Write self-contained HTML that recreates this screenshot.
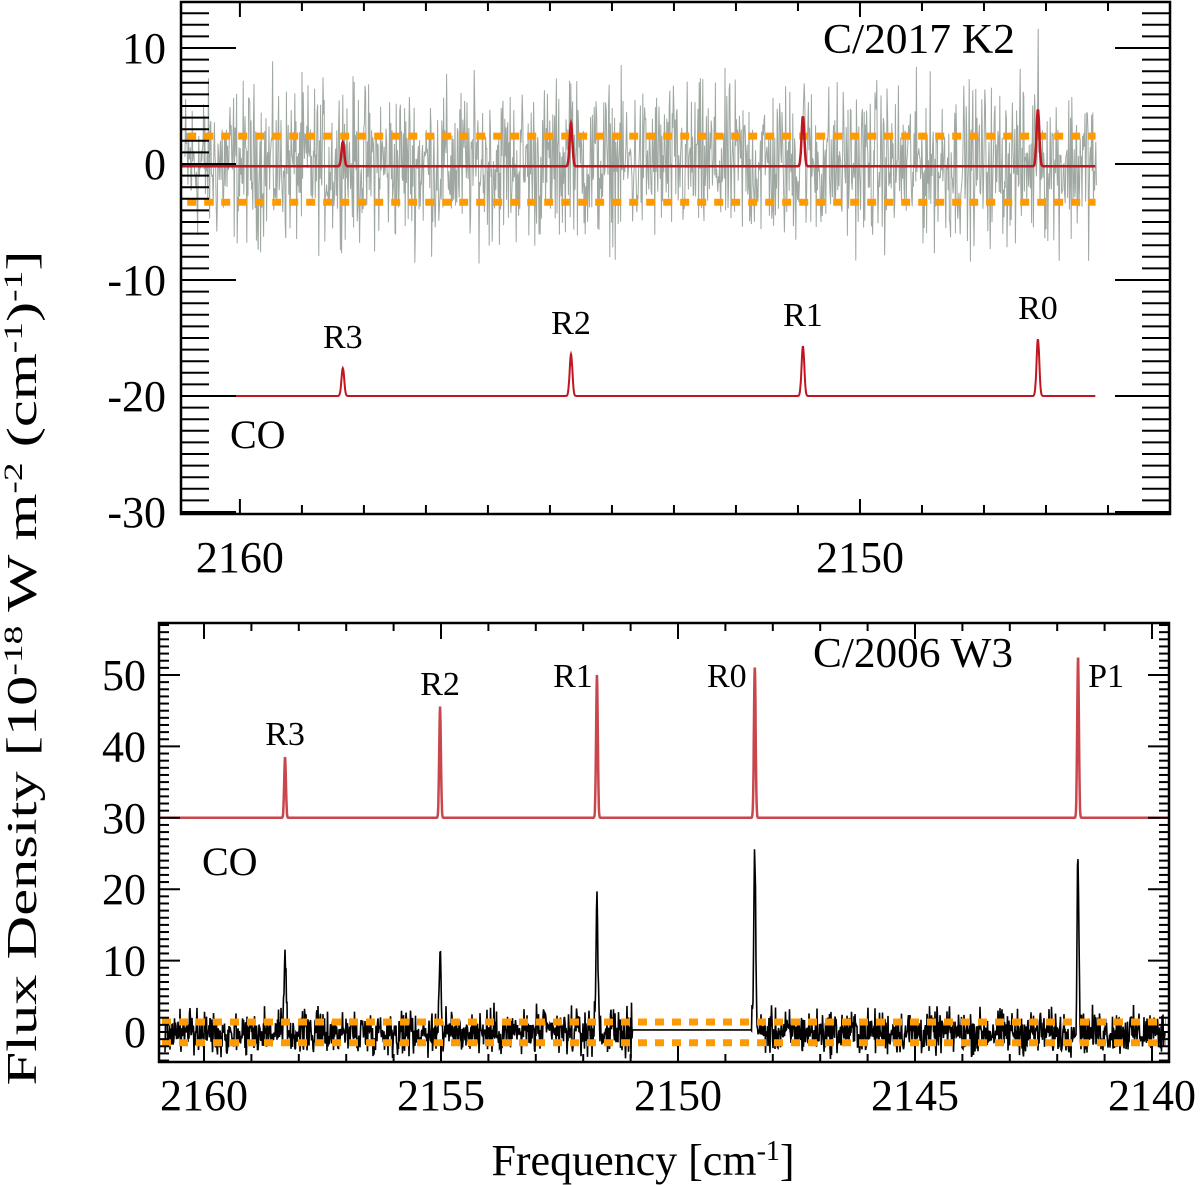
<!DOCTYPE html>
<html><head><meta charset="utf-8">
<style>
html,body{margin:0;padding:0;background:#fff;}
svg{display:block;font-family:"Liberation Serif",serif;}
</style></head>
<body>
<svg id="chart" width="1200" height="1185" viewBox="0 0 1200 1185" xmlns="http://www.w3.org/2000/svg">
<text transform="translate(36,668) rotate(-90)" text-anchor="middle" font-size="42" textLength="835" lengthAdjust="spacingAndGlyphs">Flux Density [10<tspan baseline-shift="super" font-size="26">-18</tspan> W m<tspan baseline-shift="super" font-size="26">-2</tspan> (cm<tspan baseline-shift="super" font-size="26">-1</tspan>)<tspan baseline-shift="super" font-size="26">-1</tspan>]</text>
<text x="643" y="1175" text-anchor="middle" font-size="44">Frequency [cm<tspan baseline-shift="super" font-size="28">-1</tspan>]</text>
</svg>
<script>
// ---- data: top panel (C/2017 K2) ----
const topLineNames = ["R3","R2","R1","R0"];
const topLineFreqs = [2158.34, 2154.66, 2150.92, 2147.13];
const topObsPeaks = [2.1, 3.7, 4.3, 4.9];
const topModelPeaks = [2.4, 3.6, 4.3, 4.9];
const topModelOffset = -20;
const topUpperLimit = 2.4;
const topLowerLimit = -3.3;
const topYTicks = [10, 0, -10, -20, -30];
const topXTicks = [2160, 2150];
// ---- data: bottom panel (C/2006 W3) ----
const botLineNames = ["R3","R2","R1","R0","P1"];
const botLineFreqs = [2158.29, 2155.02, 2151.71, 2148.38, 2141.56];
const botObsPeaks = [9.7, 11.8, 19.6, 26.5, 23.7];
const botModelPeaks = [8.5, 15.5, 20.0, 21.0, 22.4];
const botModelOffset = 30;
const botUpperLimit = 1.4;
const botLowerLimit = -1.5;
const botGap = [2150.97, 2148.45];
const botYTicks = [50, 40, 30, 20, 10, 0];
const botXTicks = [2160, 2155, 2150, 2145, 2140];

const NS = "http://www.w3.org/2000/svg";
const svg = document.getElementById("chart");
function mk(tag, attrs, parent){
  const e = document.createElementNS(NS, tag);
  for (const k in attrs) e.setAttribute(k, attrs[k]);
  (parent||svg).appendChild(e); return e;
}
// deterministic noise texture
let seed = 12345;
function rnd(){ seed = (seed*1103515245 + 12345) % 2147483648; return seed/2147483648; }
function gauss(){ let s=0; for(let i=0;i<3;i++) s+=rnd(); return (s-1.5)*2; }

// ---- axis functions ----
const T = {x0:181, x1:1170, y0:2, y1:514, f0:2160.95, f1:2145.0};
const tx = f => T.x0 + (T.f0 - f)*(T.x1-T.x0)/(T.f0-T.f1);
const ty = v => 164 - v*11.6;
const B = {x0:159, x1:1169, y0:623, y1:1062};
const bx = f => 204 + (2160 - f)*47.4;
const by = v => 1032 - v*7.14;

function peakSum(f, freqs, amps, w){
  let s=0; for(let i=0;i<freqs.length;i++){ const d=(f-freqs[i])/w; s+=amps[i]*Math.exp(-d*d/2);} return s;
}

// ===== top panel =====
const gTop = mk("g", {});


{
  let pts=[];
  for (let x=185; x<=1097; x+=0.6){
    const f = T.f0 - (x-T.x0)*(T.f0-T.f1)/(T.x1-T.x0);
    let v = gauss()*3.3 + peakSum(f, topLineFreqs, topObsPeaks, 0.03);
    pts.push(x.toFixed(1)+","+ty(v).toFixed(1));
  }
  const p = mk("polyline",{points:pts.join(" "),fill:"none",stroke:"#9ea7a0","stroke-width":1},gTop);
  
  
}
[topUpperLimit, topLowerLimit].forEach((v,i)=>{
  const l = mk("line",{x1:tx(2160.85),x2:tx(2146.2),y1:ty(v),y2:ty(v),stroke:"#ff9a00","stroke-width":7,"stroke-dasharray":"9 8"},gTop);
  
  
});
function topModelLine(offset, amps, name, sw){
  let pts=[];
  for (let f=T.f0; f>=2146.2; f-=0.005){
    pts.push(tx(f).toFixed(1)+","+ty(offset+peakSum(f, topLineFreqs, amps, 0.022)).toFixed(1));
  }
  const p = mk("polyline",{points:pts.join(" "),fill:"none",stroke:"#c0161f","stroke-width":sw},gTop);
  
  
}
topModelLine(-0.2, topObsPeaks, 'fitted-model-line', 2.5);
topModelLine(topModelOffset, topModelPeaks, 'co-model-line', 2);
topLineNames.forEach((n,i)=>{
  const t = mk("text",{x:tx(topLineFreqs[i]),y:ty(topModelOffset+topModelPeaks[i])-20,"text-anchor":"middle","font-size":34},gTop);
  t.textContent = n;
  
  
});
{
  const t = mk("text",{x:230,y:448,"font-size":40},gTop); t.textContent="CO";
  
  
  const t2 = mk("text",{x:823,y:53,"font-size":42,textLength:192,lengthAdjust:"spacingAndGlyphs"},gTop); t2.textContent="C/2017 K2";
  
  
}
{
  const r = mk("rect",{x:T.x0,y:T.y0,width:T.x1-T.x0,height:T.y1-T.y0,fill:"none",stroke:"#000","stroke-width":2.5},gTop);
  
  
  for (let v=-30; v<=13; v++){
    const y=ty(v), maj = v%10==0, L = maj?55:28;
    mk("line",{x1:T.x0,x2:T.x0+L,y1:y,y2:y,stroke:"#000","stroke-width":2},gTop);
    mk("line",{x1:T.x1,x2:T.x1-L,y1:y,y2:y,stroke:"#000","stroke-width":2},gTop);
  }
  for (let f=2160; f>=2145; f--){
    const x=tx(f), maj = f%10==0, L = maj?15:9;
    mk("line",{x1:x,x2:x,y1:T.y1,y2:T.y1-L,stroke:"#000","stroke-width":2},gTop);
    mk("line",{x1:x,x2:x,y1:T.y0,y2:T.y0+L,stroke:"#000","stroke-width":2},gTop);
  }
  topYTicks.forEach(v=>{
    const t = mk("text",{x:166,y:ty(v)+15,"text-anchor":"end","font-size":44},gTop); t.textContent=v;
    
    
  });
  topXTicks.forEach(f=>{
    const t = mk("text",{x:tx(f),y:572,"text-anchor":"middle","font-size":44},gTop); t.textContent=f;
    
    
  });
}

// ===== bottom panel =====
const gBot = mk("g", {});


{
  let pts=[];
  for (let f=2160.95; f>=2139.65; f-=0.004){
    pts.push(bx(f).toFixed(1)+","+by(botModelOffset+peakSum(f, botLineFreqs, botModelPeaks, 0.018)).toFixed(1));
  }
  const p = mk("polyline",{points:pts.join(" "),fill:"none",stroke:"#c9464d","stroke-width":2.5},gBot);
  
  
}
{
  let pts=[];
  seed = 777;
  for (let x=165; x<=1165; x+=0.5){
    const f = 2160 - (x-204)/47.4;
    let v;
    if (f < botGap[0] && f > botGap[1]) v = 0.3;
    else v = gauss()*1.5 + peakSum(f, botLineFreqs, botObsPeaks, 0.02);
    pts.push(x.toFixed(1)+","+by(v).toFixed(1));
  }
  const p = mk("polyline",{points:pts.join(" "),fill:"none",stroke:"#000","stroke-width":1.6},gBot);
  
  
}
[botUpperLimit, botLowerLimit].forEach((v,i)=>{
  const l = mk("line",{x1:B.x0+3,x2:B.x1-3,y1:by(v),y2:by(v),stroke:"#ff9a00","stroke-width":7,"stroke-dasharray":"9 8"},gBot);
  
  
});
const botLabelPos = [[0,-12],[0,-12],[-24,-12],[-28,-12],[28,-12]];
botLineNames.forEach((n,i)=>{
  const t = mk("text",{x:bx(botLineFreqs[i])+botLabelPos[i][0],y:Math.max(by(botModelOffset+botModelPeaks[i])+botLabelPos[i][1],687),"text-anchor":"middle","font-size":34},gBot);
  t.textContent = n;
  
  
});
{
  const t = mk("text",{x:202,y:875,"font-size":40},gBot); t.textContent="CO";
  
  
  const t2 = mk("text",{x:813,y:667,"font-size":42,textLength:200,lengthAdjust:"spacingAndGlyphs"},gBot); t2.textContent="C/2006 W3";
  
  
}
{
  const r = mk("rect",{x:B.x0,y:B.y0,width:B.x1-B.x0,height:B.y1-B.y0,fill:"none",stroke:"#000","stroke-width":2.5},gBot);
  
  
  for (let v=-4; v<=57; v++){
    const y=by(v), maj = v%10==0, L = maj?21:10;
    mk("line",{x1:B.x0,x2:B.x0+L,y1:y,y2:y,stroke:"#000","stroke-width":2},gBot);
    mk("line",{x1:B.x1,x2:B.x1-L,y1:y,y2:y,stroke:"#000","stroke-width":2},gBot);
  }
  for (let f=2160; f>=2140; f--){
    const x=bx(f), maj = f%5==0, L = maj?16:8;
    mk("line",{x1:x,x2:x,y1:B.y1,y2:B.y1-L,stroke:"#000","stroke-width":2},gBot);
    mk("line",{x1:x,x2:x,y1:B.y0,y2:B.y0+L,stroke:"#000","stroke-width":2},gBot);
  }
  botYTicks.forEach(v=>{
    const t = mk("text",{x:146,y:by(v)+15,"text-anchor":"end","font-size":44},gBot); t.textContent=v;
    
    
  });
  botXTicks.forEach(f=>{
    const t = mk("text",{x:Math.min(bx(f),1152),y:1110,"text-anchor":"middle","font-size":44},gBot); t.textContent=f;
    
    
  });
}
</script>
</body></html>
